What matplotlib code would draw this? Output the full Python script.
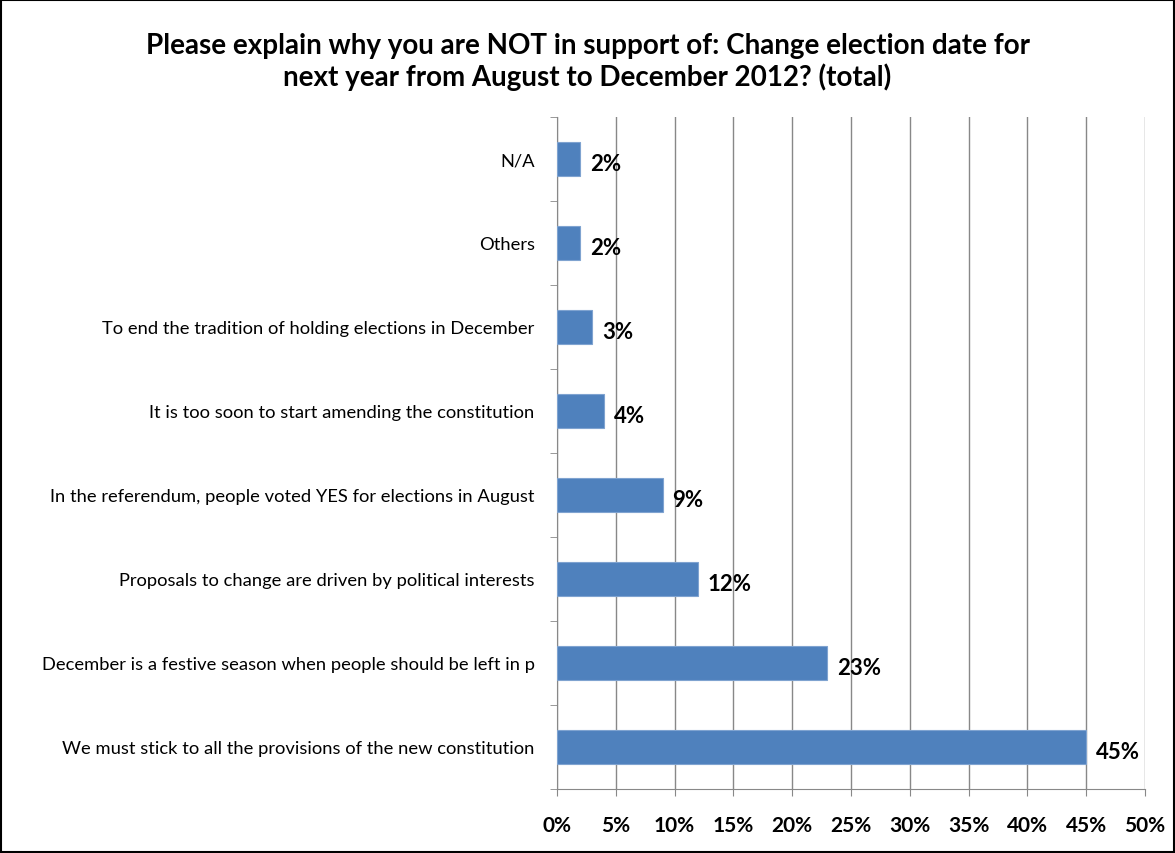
import matplotlib.pyplot as plt
from matplotlib.ticker import FuncFormatter

categories = [
    "We must stick to all the provisions of the new constitution",
    "December is a festive season when people should be left in p",
    "Proposals to change are driven by political interests",
    "In the referendum, people voted YES for elections in August",
    "It is too soon to start amending the constitution",
    "To end the tradition of holding elections in December",
    "Others",
    "N/A",
]
values = [45, 23, 12, 9, 4, 3, 2, 2]
x_ticks = [0, 5, 10, 15, 20, 25, 30, 35, 40, 45, 50]

plt.rcParams["font.family"] = ["Lato", "DejaVu Sans"]

fig = plt.figure(figsize=(11.75, 8.54), dpi=100)
ax = fig.add_axes([0.474, 0.075, 0.5005, 0.787])

ypos = list(range(len(categories)))
ax.barh(ypos, values, height=0.4, color="#4F81BD", edgecolor="#7FA3D0", linewidth=0.8, zorder=3)

for y, v in zip(ypos, values):
    ax.annotate(f"{v}%", (v, y), xytext=(7, -3), textcoords="offset points",
                va="center", ha="left", fontsize=16, fontweight="bold", zorder=4)

ax.set_xlim(0, 50)
ax.set_ylim(-0.5, len(categories) - 0.5)
ax.set_xticks(x_ticks)
ax.xaxis.set_major_formatter(FuncFormatter(lambda v, p: f"{v:.0f}%"))
for lbl in ax.get_xticklabels():
    lbl.set_fontweight("bold")
ax.tick_params(axis="x", labelsize=15, length=5, pad=14, color="#888888")
ax.grid(axis="x", color="#888888", linewidth=1, zorder=0)

ax.set_yticks(ypos)
ax.set_yticklabels(categories, fontsize=13.2)
ax.tick_params(axis="y", length=0, pad=16)
ax.set_yticks([y - 0.5 for y in range(len(categories) + 1)], minor=True)
ax.tick_params(axis="y", which="minor", length=5, color="#888888")

for side in ["top", "right"]:
    ax.spines[side].set_visible(False)
for side in ["left", "bottom"]:
    ax.spines[side].set_color("#888888")

fig.suptitle("Please explain why you are NOT in support of: Change election date for\n"
             "next year from August to December 2012? (total)",
             y=0.961, fontsize=20, fontweight="bold", linespacing=1.2)

fig.patches.append(plt.Rectangle((0.001, 0.001), 0.998, 0.998, transform=fig.transFigure,
                                 fill=False, edgecolor="black", linewidth=1.5))

plt.savefig("out.png", dpi=100)
